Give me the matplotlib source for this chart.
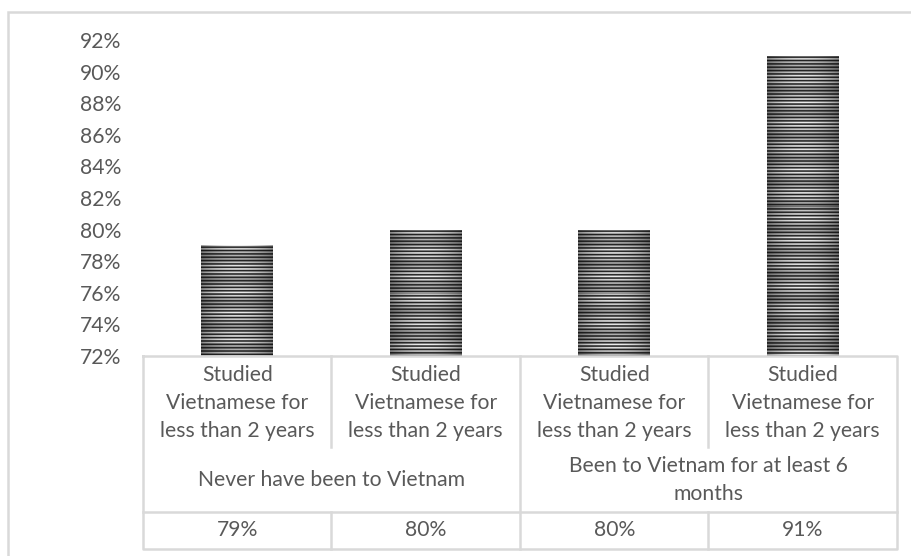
import numpy as np
import matplotlib
matplotlib.use("Agg")
import matplotlib.pyplot as plt
from matplotlib.patches import Rectangle
from matplotlib.ticker import FuncFormatter, MultipleLocator

# Data
categories = ["Studied\nVietnamese for\nless than 2 years"] * 4
groups = ["Never have been to Vietnam", "Been to Vietnam for at least 6\nmonths"]
group_sizes = [2, 2]
values = [0.79, 0.80, 0.80, 0.91]
value_labels = ["79%", "80%", "80%", "91%"]
y_min, y_max, y_step = 0.72, 0.92, 0.02

W, H = 912, 556
TEXT = "#595959"
LINE = "#d9d9d9"
FONT = "Lato"
FS = 15.2

plt.rcParams["font.family"] = [FONT, "DejaVu Sans"]

fig = plt.figure(figsize=(W / 100, H / 100), dpi=100)

# outer chart frame (only left/top edges fall inside the canvas)
fig.add_artist(Rectangle((8.5 / W, -0.1), 1.2, 1.1 - 11.5 / H, transform=fig.transFigure,
                         fill=False, edgecolor=LINE, linewidth=1.8))

left, right = 143 / W, 897 / W
plot_top, plot_bot = 1 - 40 / H, 1 - 356 / H
tab_bot = 1 - 549 / H

ax = fig.add_axes([left, plot_bot, right - left, plot_top - plot_bot])
n = len(values)
x = np.arange(n)
ax.set_xlim(-0.5, n - 0.5)
ax.set_ylim(y_min, y_max)
for s in ax.spines.values():
    s.set_visible(False)
ax.set_xticks([])
ax.yaxis.set_major_locator(MultipleLocator(y_step))
ax.yaxis.set_major_formatter(FuncFormatter(lambda v, p: f"{v * 100:.0f}%"))
ax.tick_params(axis="y", length=0, pad=22 * 0.72, labelsize=FS, labelcolor=TEXT)

bars = ax.bar(x, [v - y_min for v in values], bottom=y_min, width=0.38,
              facecolor="none", edgecolor="none")


def stripe_texture(rows, cols):
    yy = np.arange(rows)[:, None]
    xx = np.linspace(-1, 1, cols)[None, :]
    stripes = 0.5 + 0.5 * np.cos(2 * np.pi * yy / 3.35)
    band = 0.5 + 0.5 * np.cos(2 * np.pi * yy / 23.0)
    stripes = 0.14 + (0.55 + 0.25 * band) * stripes
    shade = 1.0 - 0.35 * xx ** 2
    img = np.clip(stripes * shade, 0, 1)
    return np.dstack([img, img, img])


px_per_unit = (plot_top - plot_bot) * H / (y_max - y_min)
for b in bars:
    rows = max(int(round(b.get_height() * px_per_unit)), 2)
    tex = stripe_texture(rows, 72)
    im = ax.imshow(tex, extent=(b.get_x(), b.get_x() + b.get_width(),
                                b.get_y(), b.get_y() + b.get_height()),
                   aspect="auto", interpolation="nearest", origin="upper", zorder=2)
    im.set_clip_path(b)

# category table beneath the plot
tax = fig.add_axes([left, tab_bot, right - left, plot_bot - tab_bot])
tax.set_xlim(-0.5, n - 0.5)
tax.set_ylim(549, 356)
tax.axis("off")
lk = dict(color=LINE, linewidth=1.8, solid_capstyle="projecting", clip_on=False)
tax.plot([-0.5, n - 0.5, n - 0.5, -0.5, -0.5], [356, 356, 549, 549, 356], **lk)
tax.plot([-0.5, n - 0.5], [512, 512], **lk)
start = 0
bounds = set()
for g in group_sizes:
    start += g
    bounds.add(start)
for i in range(1, n):
    bx = i - 0.5
    if i in bounds:
        tax.plot([bx, bx], [356, 549], **lk)
    else:
        tax.plot([bx, bx], [356, 447], **lk)
        tax.plot([bx, bx], [512, 549], **lk)

tk = dict(ha="center", va="center", color=TEXT, fontsize=FS, linespacing=1.5)
for i, c in enumerate(categories):
    tax.text(i, 403, c, **tk)
start = 0
for g, sz in zip(groups, group_sizes):
    tax.text(start + (sz - 1) / 2, 479.5, g, **tk)
    start += sz
for i, v in enumerate(value_labels):
    tax.text(i, 530.5, v, **tk)

fig.savefig("out.png", dpi=100)
